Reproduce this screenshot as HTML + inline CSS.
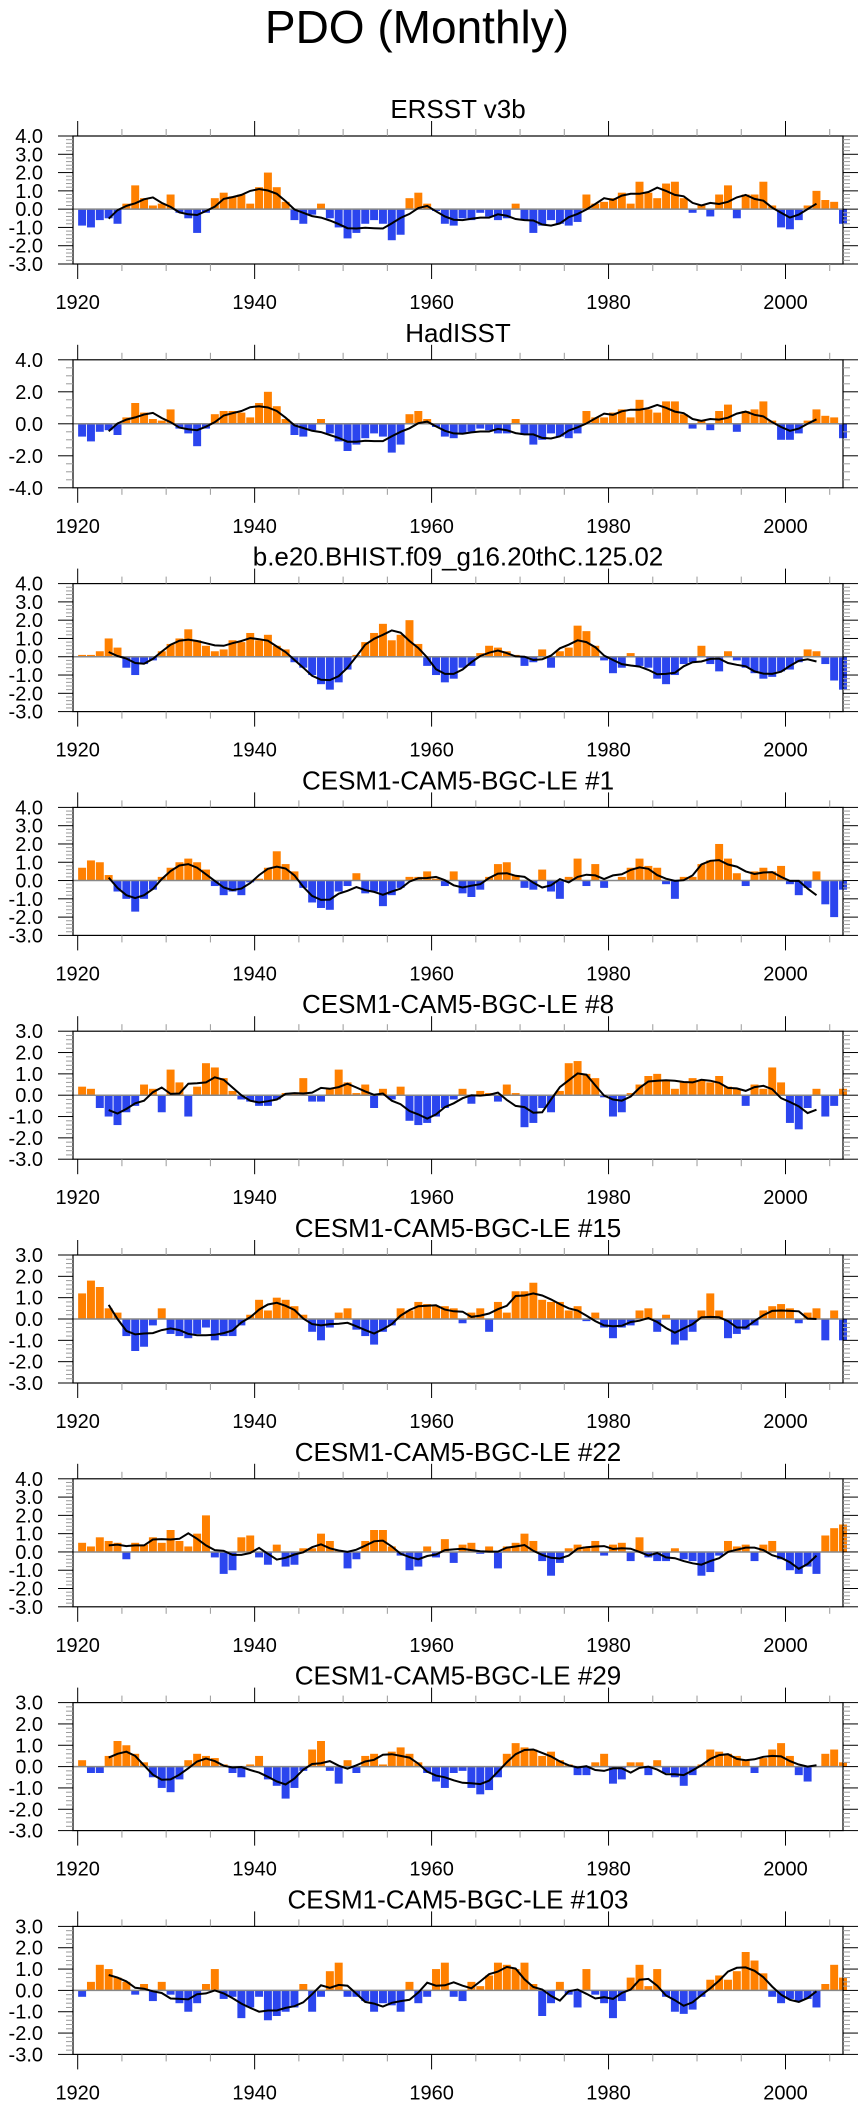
<!DOCTYPE html>
<html><head><meta charset="utf-8"><title>PDO (Monthly)</title>
<style>html,body{margin:0;padding:0;background:#fff}svg{display:block;font-family:"Liberation Sans",Arial,sans-serif}</style>
</head><body>
<svg id="fig" width="867" height="2107" viewBox="0 0 867 2107" xmlns="http://www.w3.org/2000/svg">
<text x="417" y="43" font-size="46" text-anchor="middle">PDO (Monthly)</text>
</svg>
<script>
const years = [];
for (let y = 1920; y <= 2006; y++) years.push(y);
const panelTitles = ["ERSST v3b","HadISST","b.e20.BHIST.f09_g16.20thC.125.02","CESM1-CAM5-BGC-LE #1","CESM1-CAM5-BGC-LE #8","CESM1-CAM5-BGC-LE #15","CESM1-CAM5-BGC-LE #22","CESM1-CAM5-BGC-LE #29","CESM1-CAM5-BGC-LE #103"];
const yMins = [-3,-4,-3,-3,-3,-3,-3,-3,-3];
const yMaxs = [4,4,4,4,3,3,4,3,3];
const yTickSteps = [1,2,1,1,1,1,1,1,1];
const xTickLabels = [1920,1940,1960,1980,2000];
const ersst = [-0.9,-1.0,-0.6,-0.5,-0.8,0.3,1.3,0.6,0.2,0.3,0.8,-0.2,-0.5,-1.3,-0.2,0.6,0.9,0.7,0.8,0.3,1.2,2.0,1.2,0.4,-0.6,-0.8,-0.3,0.3,-0.5,-1.0,-1.6,-1.3,-0.8,-0.6,-0.8,-1.7,-1.4,0.6,0.9,0.3,-0.1,-0.8,-0.9,-0.5,-0.6,-0.2,-0.4,-0.6,-0.5,0.3,-0.6,-1.3,-0.9,-0.6,-0.8,-0.9,-0.7,0.8,0.3,0.4,0.6,0.9,0.3,1.5,0.9,0.6,1.4,1.5,0.6,-0.2,0.2,-0.4,0.8,1.3,-0.5,0.8,0.8,1.5,0.2,-1.0,-1.1,-0.6,0.2,1.0,0.5,0.4,-0.8];
const hadisst = [-0.8,-1.1,-0.5,-0.4,-0.7,0.4,1.3,0.7,0.3,0.2,0.9,-0.3,-0.6,-1.4,-0.3,0.6,0.8,0.8,0.7,0.4,1.3,2.0,1.1,0.3,-0.7,-0.8,-0.4,0.3,-0.6,-1.1,-1.7,-1.3,-0.9,-0.6,-0.8,-1.8,-1.3,0.6,0.8,0.3,-0.2,-0.8,-0.9,-0.6,-0.5,-0.3,-0.4,-0.6,-0.6,0.3,-0.7,-1.3,-1.0,-0.6,-0.8,-0.9,-0.6,0.8,0.4,0.4,0.7,0.9,0.4,1.5,0.9,0.7,1.4,1.4,0.6,-0.3,0.2,-0.4,0.8,1.2,-0.5,0.8,0.9,1.4,0.2,-1.0,-1.0,-0.6,0.2,0.9,0.5,0.4,-0.9];
const bhist = [0.1,0.1,0.3,1.0,0.5,-0.6,-1.0,-0.4,-0.2,0.3,0.7,1.0,1.5,0.9,0.6,0.3,0.4,0.9,0.8,1.3,0.9,1.2,0.6,0.4,-0.3,-0.6,-1.0,-1.5,-1.8,-1.4,-0.7,0.1,0.8,1.3,1.8,0.9,1.2,2.0,0.7,-0.5,-1.0,-1.4,-1.2,-0.6,-0.5,0.2,0.6,0.5,0.3,0.1,-0.5,-0.3,0.4,-0.6,0.3,0.5,1.7,1.4,0.6,-0.2,-0.9,-0.6,0.2,-0.5,-0.6,-1.2,-1.5,-1.0,-0.4,-0.3,0.6,-0.4,-0.8,0.3,-0.2,-0.6,-0.9,-1.2,-1.1,-0.8,-0.7,-0.3,0.4,0.3,-0.4,-1.3,-1.8];
const le1 = [0.7,1.1,1.0,0.3,-0.6,-1.0,-1.7,-1.0,-0.5,0.2,0.7,1.0,1.2,1.0,0.6,-0.3,-0.8,-0.6,-0.8,-0.1,0.1,0.7,1.6,0.9,0.5,-0.4,-1.2,-1.5,-1.6,-0.6,-0.3,0.4,-0.7,-0.6,-1.4,-0.8,-0.4,0.2,0.2,0.5,0.1,-0.3,0.5,-0.7,-0.9,-0.5,0.2,0.9,1.0,0.3,-0.4,-0.5,0.6,-0.6,-1.0,0.2,1.2,-0.3,0.9,-0.4,0.0,0.2,0.7,1.2,0.8,0.7,-0.2,-1.0,0.2,0.2,0.9,1.1,2.0,1.2,0.4,-0.3,0.5,0.7,0.5,0.8,-0.2,-0.8,-0.4,0.5,-1.3,-2.0,-0.5];
const le8 = [0.4,0.3,-0.6,-1.0,-1.4,-0.8,-0.5,0.5,0.3,-0.8,1.2,0.6,-1.0,0.4,1.5,1.3,0.8,0.2,-0.2,-0.3,-0.5,-0.5,-0.2,0.1,0.1,0.8,-0.3,-0.3,0.3,1.2,0.6,0.1,0.5,-0.6,0.3,-0.2,0.4,-1.2,-1.4,-1.3,-1.0,-0.6,-0.2,0.3,-0.4,0.2,0.1,-0.3,0.5,0.1,-1.5,-1.3,-0.6,-0.8,0.2,1.5,1.6,1.0,0.8,-0.1,-1.0,-0.8,0.1,0.5,0.9,1.0,0.7,0.3,0.6,0.8,0.7,0.6,0.9,0.4,0.3,-0.5,0.5,0.3,1.3,0.6,-1.3,-1.6,-0.6,0.3,-1.0,-0.5,0.3];
const le15 = [1.2,1.8,1.5,0.5,0.3,-0.8,-1.5,-1.3,-0.3,0.5,-0.7,-0.8,-0.9,-0.7,-0.4,-1.0,-0.8,-0.8,-0.3,0.2,0.9,0.4,1.0,0.9,0.6,0.2,-0.6,-1.0,-0.4,0.3,0.5,-0.5,-0.8,-1.2,-0.6,-0.3,0.5,0.4,0.8,0.7,0.6,0.6,0.5,-0.2,0.3,0.5,-0.6,0.8,0.3,1.3,1.3,1.7,0.9,0.8,0.8,0.4,0.6,-0.1,0.3,-0.4,-0.9,-0.4,-0.3,0.4,0.5,-0.6,0.2,-1.2,-1.0,-0.6,0.4,1.2,0.4,-0.9,-0.7,-0.5,-0.3,0.4,0.6,0.7,0.5,-0.2,0.3,0.5,-1.0,0.4,-1.0];
const le22 = [0.5,0.3,0.8,0.6,0.5,-0.4,0.5,0.4,0.8,0.5,1.2,0.6,0.3,1.0,2.0,-0.3,-1.2,-1.0,0.8,0.9,-0.3,-0.7,0.4,-0.8,-0.7,0.2,0.2,1.0,0.6,0.1,-0.9,-0.4,0.6,1.2,1.2,0.3,-0.2,-1.0,-0.8,0.3,-0.3,0.7,-0.6,0.4,0.5,-0.1,0.3,-0.9,0.3,0.5,1.0,0.6,-0.5,-1.3,-0.6,0.2,0.4,0.3,0.6,-0.2,0.4,0.5,-0.5,0.8,-0.3,-0.5,-0.5,0.2,-0.4,-0.5,-1.3,-1.1,-0.2,0.6,0.3,0.4,-0.5,0.4,0.6,-0.4,-1.0,-1.2,-0.8,-1.2,0.9,1.3,1.5];
const le29 = [0.3,-0.3,-0.3,0.5,1.2,1.0,0.6,0.2,-0.5,-1.0,-1.2,-0.6,0.3,0.6,0.5,0.4,0.1,-0.3,-0.5,0.1,0.5,-0.6,-0.9,-1.5,-1.0,-0.2,0.8,1.2,-0.2,-0.8,0.3,-0.3,0.5,0.6,0.1,0.7,0.9,0.6,0.2,-0.3,-0.7,-1.0,-0.3,-0.2,-1.0,-1.3,-1.1,-0.5,0.6,1.1,0.9,0.8,0.5,0.7,0.3,0.1,-0.4,-0.4,0.2,0.6,-0.8,-0.6,0.2,0.2,-0.4,0.3,-0.3,-0.5,-0.9,-0.4,0.1,0.8,0.7,0.6,0.5,0.3,-0.3,0.4,0.8,1.1,0.5,-0.4,-0.7,0.0,0.6,0.8,0.2];
const le103 = [-0.3,0.4,1.2,1.0,0.6,0.4,-0.2,0.3,-0.5,0.4,-0.2,-0.6,-1.0,-0.6,0.3,1.0,-0.4,-0.3,-1.3,-0.8,-0.3,-1.4,-1.2,-1.0,-0.8,0.3,-1.0,-0.3,0.9,1.3,-0.3,-0.3,-0.5,-1.0,-0.6,-0.7,-1.0,0.4,-0.6,-0.3,1.0,1.3,-0.3,-0.5,0.4,0.2,0.7,1.3,1.2,1.0,1.3,0.3,-1.2,-0.6,0.4,-0.2,-0.8,1.0,-0.2,-0.6,-1.3,-0.5,0.6,1.2,0.2,1.0,-0.3,-1.0,-1.1,-0.9,-0.3,0.5,0.7,0.5,0.9,1.8,1.4,0.8,-0.3,-0.6,-0.4,-0.5,-0.4,-0.8,0.3,1.2,0.6];
const seriesList = [ersst,hadisst,bhist,le1,le8,le15,le22,le29,le103];

const NS = "http://www.w3.org/2000/svg";
const svg = document.getElementById('fig');
const X0 = 73, X1 = 843, YR0 = 1919.47, YR1 = 2006.5;
const TOP0 = 136, PH = 128, PSTEP = 223.8;
function xScale(yr){ return X0 + (yr - YR0) / (YR1 - YR0) * (X1 - X0); }
function mk(tag, attrs, parent){ const e = document.createElementNS(NS, tag); for (const k in attrs) e.setAttribute(k, attrs[k]); (parent||svg).appendChild(e); return e; }

seriesList.forEach((vals, p) => {
  const top = TOP0 + p * PSTEP, bot = top + PH;
  const ymin = yMins[p], ymax = yMaxs[p];
  const yScale = v => bot - (v - ymin) / (ymax - ymin) * PH;
  const g = mk('g', {});
  
  
  const t = mk('text', {x: (X0 + X1) / 2, y: top - 18, 'font-size': 26, 'text-anchor': 'middle'}, g);
  t.textContent = panelTitles[p];
  
  
  const y0 = yScale(0);
  const bw = (X1 - X0) / (YR1 - YR0);
  vals.forEach((v, i) => {
    const xc = xScale(years[i] + 0.5);
    const yv = yScale(v);
    const r = mk('rect', {x: xc - bw * 0.45, width: bw * 0.9, y: Math.min(yv, y0), height: Math.abs(yv - y0), fill: v >= 0 ? '#ff8000' : '#2b45ee'}, g);
    
    
  });
  const zl = mk('line', {x1: X0, x2: X1, y1: y0, y2: y0, stroke: '#888', 'stroke-width': 1.5}, g);
  
  
  let pts = [];
  for (let i = 3; i < vals.length - 3; i++) {
    let s = 0; for (let k = -2; k <= 2; k++) s += vals[i + k];
    pts.push(xScale(years[i] + 0.5).toFixed(1) + ',' + yScale(s / 5).toFixed(1));
  }
  const pl = mk('polyline', {points: pts.join(' '), fill: 'none', stroke: '#000', 'stroke-width': 2}, g);
  
  
  const fr = mk('rect', {x: X0, y: top, width: X1 - X0, height: PH, fill: 'none', stroke: '#000', 'stroke-width': 1.2}, g);
  
  
  const step = yTickSteps[p], minor = step === 2 ? 0.5 : 0.2;
  for (let v = ymin; v <= ymax + 1e-6; v += minor) {
    const yy = yScale(v);
    const isMaj = Math.abs(v / step - Math.round(v / step)) < 1e-6;
    const L = isMaj ? 15 : 7, col = isMaj ? '#000' : '#999';
    mk('line', {x1: X0 - L, x2: X0, y1: yy, y2: yy, stroke: col, 'stroke-width': 1}, g);
    mk('line', {x1: X1, x2: X1 + L, y1: yy, y2: yy, stroke: col, 'stroke-width': 1}, g);
    if (isMaj) {
      const lab = mk('text', {x: 43, y: yy + 7, 'font-size': 20, 'text-anchor': 'end'}, g);
      lab.textContent = (Math.round(v * 10) / 10).toFixed(1);
      
      
    }
  }
  for (let yr = 1920; yr <= 2005; yr += 5) {
    const xx = xScale(yr);
    const isMaj = yr % 20 === 0;
    const L = isMaj ? 15 : 7, col = isMaj ? '#000' : '#999';
    mk('line', {x1: xx, x2: xx, y1: top - L, y2: top, stroke: col, 'stroke-width': 1}, g);
    mk('line', {x1: xx, x2: xx, y1: bot, y2: bot + L, stroke: col, 'stroke-width': 1}, g);
  }
  xTickLabels.forEach(yr => {
    const lab = mk('text', {x: xScale(yr), y: bot + 45, 'font-size': 20, 'text-anchor': 'middle'}, g);
    lab.textContent = yr;
    
    
  });
});
</script>
</body></html>
